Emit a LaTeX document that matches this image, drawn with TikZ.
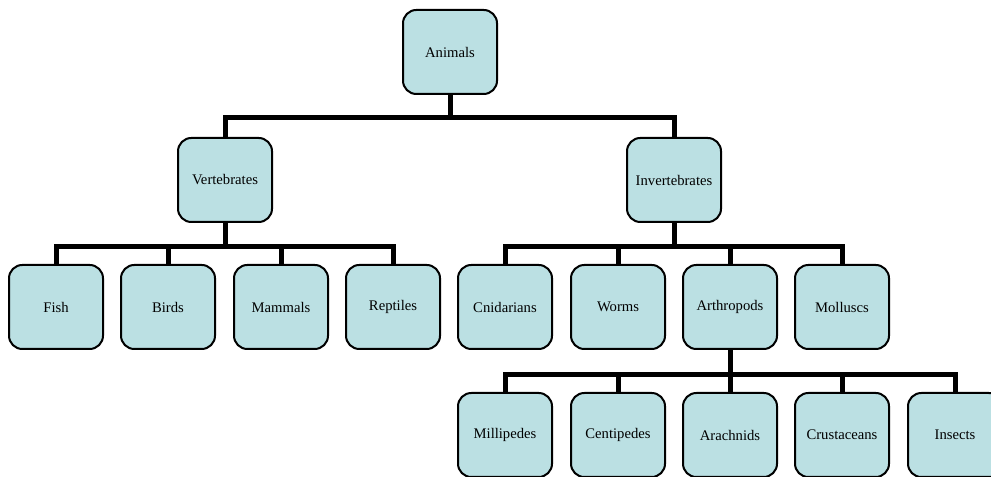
\documentclass[tikz,border=0pt]{standalone}
\usepackage{fontspec}
\setmainfont{Liberation Serif}
\usepackage{xcolor}
\usepackage{tikz}
\usetikzlibrary{positioning}
\definecolor{boxteal}{RGB}{187, 224, 227}

\begin{document}
\begin{tikzpicture}[x=0.75pt, y=0.75pt]
\tikzstyle{taxon} = [rectangle, rounded corners=10pt, minimum width=70.5pt, minimum height=63pt, text centered, draw=black, line width=1.5pt, fill=boxteal, font=\fontsize{11}{13}\selectfont]
\tikzstyle{link} = [line width=3.75pt]

\clip (0,0) rectangle (991,477);

% Top
\node[taxon] (animals) at (450,425) {Animals};
\node[taxon] (vert) at (225,297) {Vertebrates};
\node[taxon] (invert) at (674,297) {Invertebrates};

% Third row
\node[taxon] (fish) at (56,170) {Fish};
\node[taxon] (birds) at (168,170) {Birds};
\node[taxon] (mammals) at (281,170) {Mammals};
\node[taxon] (reptiles) at (393,170) {Reptiles};
\node[taxon] (cnidarians) at (505,170) {Cnidarians};
\node[taxon] (worms) at (618,170) {Worms};
\node[taxon] (arthropods) at (730,170) {Arthropods};
\node[taxon] (molluscs) at (842,170) {Molluscs};

% Bottom row
\node[taxon] (millipedes) at (505,42) {Millipedes};
\node[taxon] (centipedes) at (618,42) {Centipedes};
\node[taxon] (arachnids) at (730,42) {Arachnids};
\node[taxon] (crustaceans) at (842,42) {Crustaceans};
\node[taxon] (insects) at (955,42) {Insects};

% Links
\draw[link] (animals.south) -- ++(0,-23) -| (vert.north);
\draw[link] (animals.south) -- ++(0,-23) -| (invert.north);

\draw[link] (vert.south) -- ++(0,-24) -| (fish.north);
\draw[link] (vert.south) -- ++(0,-24) -| (birds.north);
\draw[link] (vert.south) -- ++(0,-24) -| (mammals.north);
\draw[link] (vert.south) -- ++(0,-24) -| (reptiles.north);

\draw[link] (invert.south) -- ++(0,-24) -| (cnidarians.north);
\draw[link] (invert.south) -- ++(0,-24) -| (worms.north);
\draw[link] (invert.south) -- ++(0,-24) -| (arthropods.north);
\draw[link] (invert.south) -- ++(0,-24) -| (molluscs.north);

\draw[link] (arthropods.south) -- ++(0,-25) -| (millipedes.north);
\draw[link] (arthropods.south) -- ++(0,-25) -| (centipedes.north);
\draw[link] (arthropods.south) -- ++(0,-25) -| (arachnids.north);
\draw[link] (arthropods.south) -- ++(0,-25) -| (crustaceans.north);
\draw[link] (arthropods.south) -- ++(0,-25) -| (insects.north);
\end{tikzpicture}
\end{document}
